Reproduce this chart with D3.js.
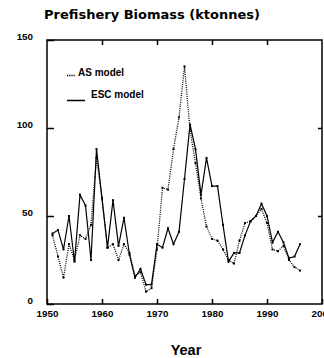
<!DOCTYPE html>
<html>
<head>
<meta charset="utf-8">
<script src="https://cdn.jsdelivr.net/npm/d3@7"></script>
<style>
  body { margin: 0; background: #fff; }
  svg { display: block; }
  .tick text { font-family: "Liberation Sans", Arial, sans-serif; font-weight: bold; font-size: 9.8px; fill: #000; }
  .legend text { font-family: "Liberation Sans", Arial, sans-serif; font-weight: bold; font-size: 10px; }
</style>
</head>
<body>
<div id="chart"></div>
<script>
// years 1951 - 1996 (ktonnes)
let years = d3.range(1951, 1997)

let as_model = [39, 27, 15, 34, 25, 39, 37, 45, 83, 60,
                32, 34, 25, 34, 29, 16, 18, 7, 9, 31,
                66, 65, 88, 106, 135, 99, 80, 60, 44, 37,
                36, 31, 25, 23, 36, 46, 47, 50, 54, 46,
                31, 30, 33, 25, 21, 19]

let esc_model = [40, 42, 31, 50, 24, 62, 56, 25, 88, 60,
                 32, 59, 33, 49, 28, 15, 20, 11, 11, 34,
                 32, 43, 34, 41, 71, 102, 88, 62, 83, 67,
                 67, 45, 24, 29, 29, 39, 47, 50, 57, 50,
                 35, 41, 35, 26, 27, 34]

let x_ticks = [1950, 1960, 1970, 1980, 1990, 2000]
let y_ticks = [0, 50, 100, 150]

let width = 324,
    height = 358

let x = d3.scaleLinear()
    .domain([1950, 2000])
    .range([47, 322])
let y = d3.scaleLinear()
    .domain([0, 150])
    .range([304, 40])

let svg = d3.select("#chart").append("svg")
    .attr("width", width)
    .attr("height", height)

svg.append("text")
    .attr("x", 152)
    .attr("y", 19)
    .attr("text-anchor", "middle")
    .style("font-family", "'DejaVu Sans', sans-serif")
    .style("font-weight", "bold")
    .style("font-size", "13px")
    .text("Prefishery Biomass (ktonnes)")

svg.append("text")
    .attr("x", 186)
    .attr("y", 355)
    .attr("text-anchor", "middle")
    .style("font-family", "'Liberation Sans', Arial, sans-serif")
    .style("font-weight", "bold")
    .style("font-size", "14.5px")
    .text("Year")

// axes: ticks point inwards on all four sides
svg.append("g")
    .attr("transform", "translate(0," + y(0) + ")")
    .call(d3.axisBottom(x).tickValues(x_ticks).tickSize(-5).tickPadding(6).tickFormat(d3.format("d")))
svg.append("g")
    .attr("transform", "translate(0," + y(150) + ")")
    .call(d3.axisTop(x).tickValues(x_ticks.slice(1, -1)).tickSize(-5).tickFormat(""))
svg.append("g")
    .attr("transform", "translate(" + x(1950) + ",0)")
    .call(d3.axisLeft(y).tickValues(y_ticks).tickSize(-7).tickPadding(14))
  .selectAll("text")
    .attr("dy", "-0.05em")
svg.append("g")
    .attr("transform", "translate(" + x(2000) + ",0)")
    .call(d3.axisRight(y).tickValues(y_ticks.slice(1, -1)).tickSize(-4).tickFormat(""))

svg.selectAll(".domain").remove()
svg.selectAll(".tick line")
    .attr("stroke", "#000")
    .attr("stroke-width", 1.5)

svg.append("rect")
    .attr("x", x(1950))
    .attr("y", y(150))
    .attr("width", x(2000) - x(1950))
    .attr("height", y(0) - y(150))
    .attr("fill", "none")
    .attr("stroke", "#000")
    .attr("stroke-width", 1.5)

let line = d3.line()
    .x(function(d) { return x(d[0]) })
    .y(function(d) { return y(d[1]) })

function draw_series(values, dashed) {
  let pts = years.map(function(yr, i) { return [yr, values[i]] })
  svg.append("path")
      .datum(pts)
      .attr("d", line)
      .attr("fill", "none")
      .attr("stroke", "#000")
      .attr("stroke-width", dashed ? 1.3 : 1.2)
      .attr("stroke-dasharray", dashed ? "1,1.2" : null)
  svg.append("g").selectAll("rect")
      .data(pts).enter()
        .append("rect")
          .attr("x", function(d) { return x(d[0]) - 1 })
          .attr("y", function(d) { return y(d[1]) - 1 })
          .attr("width", 2)
          .attr("height", 2)
          .attr("fill", "#000")
}

draw_series(as_model, true)
draw_series(esc_model, false)

// legend
let legend = svg.append("g").classed("legend", true)
legend.append("line")
    .attr("x1", 67).attr("x2", 75)
    .attr("y1", 75.5).attr("y2", 75.5)
    .attr("stroke", "#000")
    .attr("stroke-width", 1.5)
    .attr("stroke-dasharray", "1.2,1")
legend.append("text")
    .attr("x", 78)
    .attr("y", 76)
    .text("AS model")
legend.append("line")
    .attr("x1", 67).attr("x2", 85)
    .attr("y1", 100.5).attr("y2", 100.5)
    .attr("stroke", "#000")
    .attr("stroke-width", 1.5)
legend.append("text")
    .attr("x", 91)
    .attr("y", 98)
    .text("ESC model")
</script>
</body>
</html>
